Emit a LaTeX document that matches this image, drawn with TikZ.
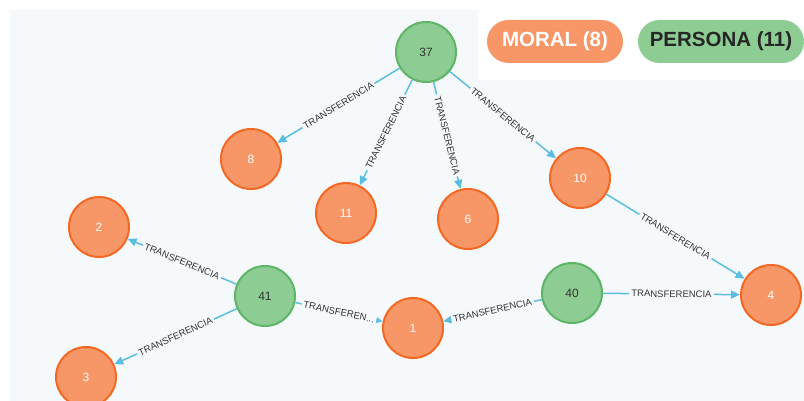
\documentclass[tikz,border=0pt]{standalone}
\usepackage{fontspec}
\setmainfont{Liberation Sans}
\usepackage{tikz}
\usetikzlibrary{arrows.meta}
\definecolor{moralfill}{HTML}{F79767}
\definecolor{moralline}{HTML}{F36924}
\definecolor{personafill}{HTML}{8DCC93}
\definecolor{personaline}{HTML}{5DB665}
\definecolor{relline}{HTML}{5BBDE0}
\definecolor{canvas}{HTML}{F6F9FC}

\begin{document}
\begin{tikzpicture}[x=1pt,y=-1pt,
  moral/.style={circle,fill=moralfill,draw=moralline,line width=2pt,minimum size=60pt,inner sep=0pt,text=white,font=\fontsize{12}{12}\selectfont},
  persona/.style={circle,fill=personafill,draw=personaline,line width=2pt,minimum size=60pt,inner sep=0pt,text=black!80,font=\fontsize{12}{12}\selectfont},
  rel/.style={draw=relline,line width=1.5pt,-{Triangle[length=9pt,width=8pt]}},
  lbl/.style={fill=canvas,inner sep=2pt,sloped,text=black!80,font=\fontsize{9.5}{9.5}\selectfont},
  pill/.style={rounded corners=21.5pt,minimum height=43pt,inner sep=0pt,font=\fontsize{20.5}{20.5}\selectfont\bfseries}]
\useasboundingbox (0,0) rectangle (804,401);
\fill[white] (0,0) rectangle (804,401);
\fill[canvas] (10,10) rectangle (804,401);
\fill[white] (478,0) rectangle (804,80);
% legend
\node[pill,fill=moralfill,text=white,minimum width=136pt] (legmoral) at (555,41.5) {MORAL (8)};
\node[pill,fill=personafill,text=black!85,minimum width=166pt] (legpersona) at (721,41.5) {PERSONA (11)};
% nodes
\node[persona] (n37) at (426,52) {37};
\node[persona] (n41) at (265,296) {41};
\node[persona] (n40) at (572,293) {40};
\node[moral] (n8) at (251,159) {8};
\node[moral] (n11) at (346,213) {11};
\node[moral] (n6) at (468,219) {6};
\node[moral] (n10) at (580,178) {10};
\node[moral] (n2) at (99,227) {2};
\node[moral] (n1) at (413,328) {1};
\node[moral] (n4) at (771,295) {4};
\node[moral] (n3) at (86,377) {3};
% relations
\draw[rel] (n37) -- node[lbl] {TRANSFERENCIA} (n8);
\draw[rel] (n37) -- node[lbl] {TRANSFERENCIA} (n11);
\draw[rel] (n37) -- node[lbl] {TRANSFERENCIA} (n6);
\draw[rel] (n37) -- node[lbl] {TRANSFERENCIA} (n10);
\draw[rel] (n10) -- node[lbl] {TRANSFERENCIA} (n4);
\draw[rel] (n41) -- node[lbl] {TRANSFERENCIA} (n2);
\draw[rel] (n41) -- node[lbl] {TRANSFERENCIA} (n3);
\draw[rel] (n41) -- node[lbl] {TRANSFEREN...} (n1);
\draw[rel] (n40) -- node[lbl] {TRANSFERENCIA} (n1);
\draw[rel] (n40) -- node[lbl] {TRANSFERENCIA} (n4);
\end{tikzpicture}
\end{document}
